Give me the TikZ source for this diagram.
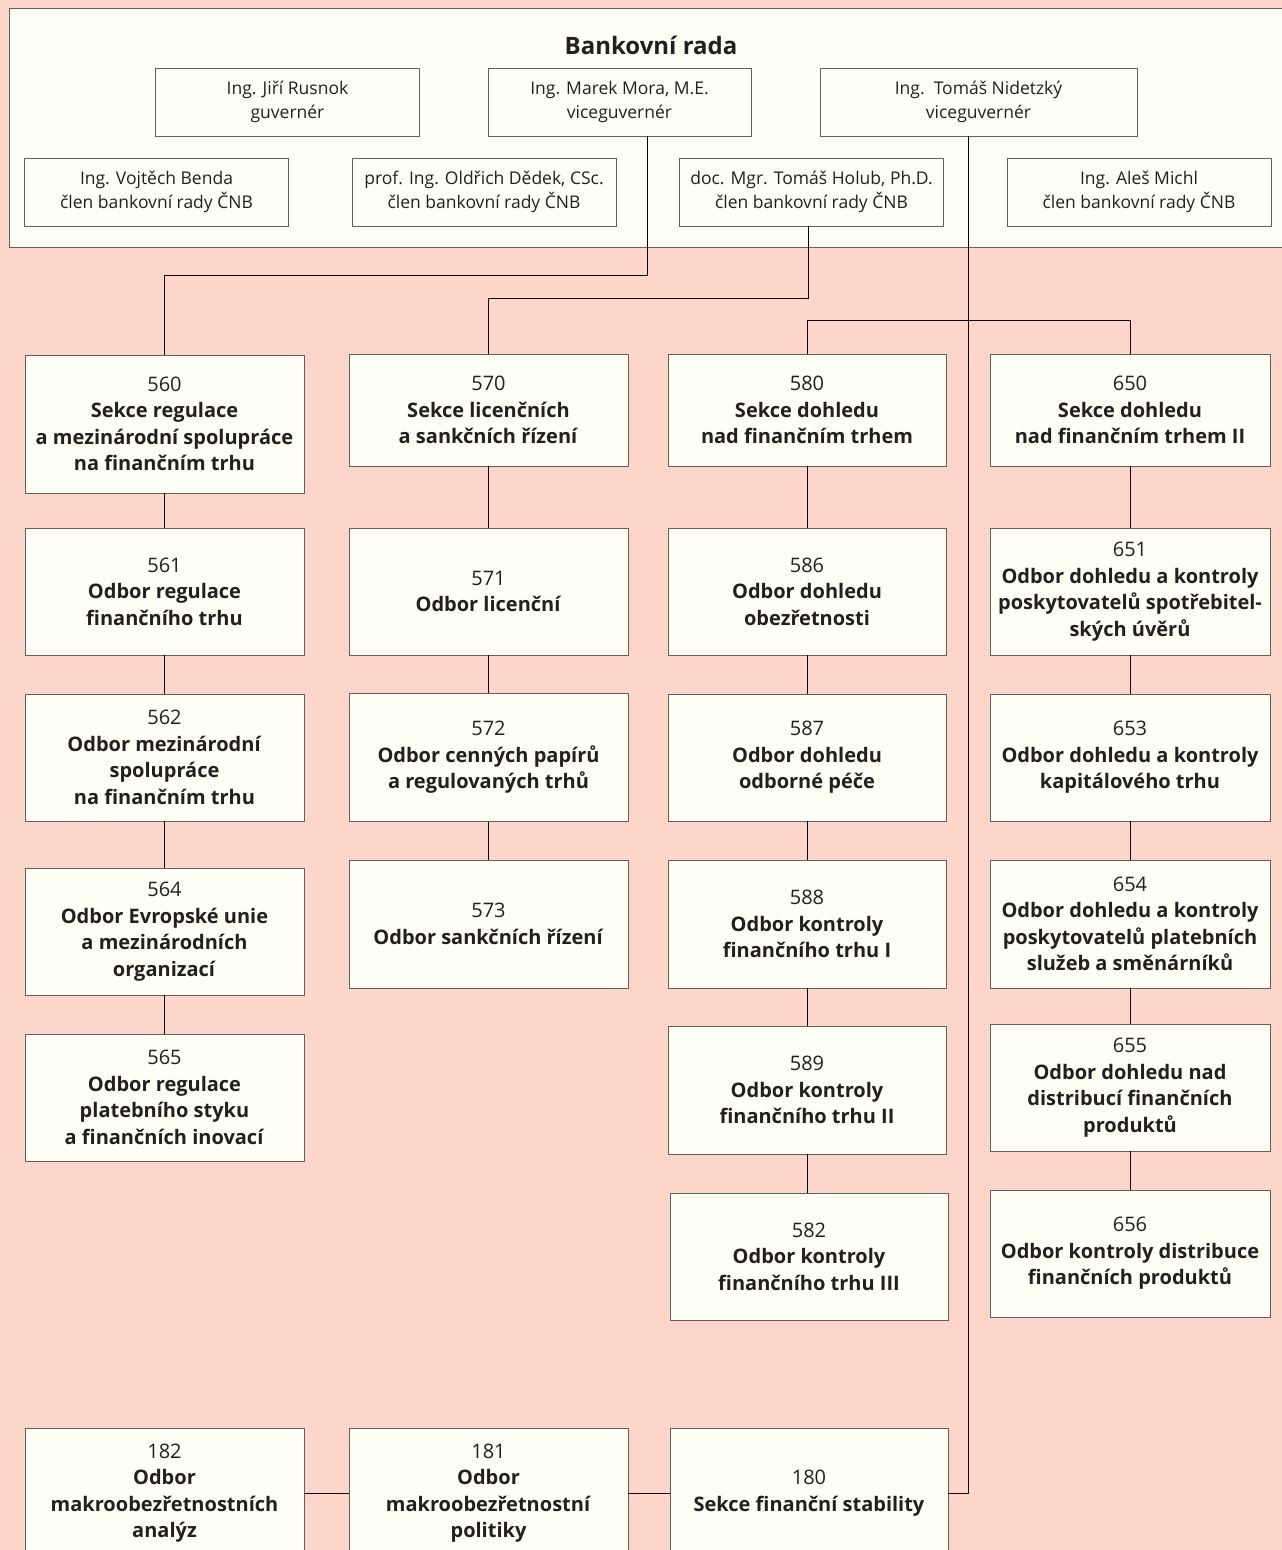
\documentclass[tikz,border=0pt]{standalone}
\usepackage{fontspec}
\setmainfont{Open Sans}
\definecolor{bgpink}{HTML}{FDD5C9}
\definecolor{ivory}{HTML}{FFFFF6}
\definecolor{boxline}{HTML}{606060}
\definecolor{txt}{HTML}{231F20}
\tikzset{
  orgbox/.style={draw=boxline, fill=ivory, line width=0.9pt, inner sep=0pt, align=center,
    text=txt, minimum width=279pt, font=\fontsize{20}{26.5}\selectfont},
  namebox/.style={draw=boxline, fill=ivory, line width=0.9pt, inner sep=0pt, align=center,
    text=txt, minimum height=68pt, font=\fontsize{17.5}{24}\selectfont},
  conn/.style={draw=black, line width=1pt},
}
\newcommand\bt[1]{\textbf{#1}}
\begin{document}
\begin{tikzpicture}[x=1pt,y=-1pt]
\useasboundingbox (0,0) rectangle (1282,1550);
\clip (0,0) rectangle (1282,1550);
\fill[bgpink] (0,0) rectangle (1282,1550);
% panel
\fill[ivory] (9,8) rectangle (1290,247);
\draw[boxline, line width=1pt] (1290,8) -- (9,8) -- (9,247) -- (1290,247);
\node[text=txt, font=\fontsize{24}{28}\selectfont\bfseries] (title) at (651,45) {Bankovní rada};
% board members
\node[namebox, minimum width=264pt] (rus) at (287.5,102) {Ing. Jiří Rusnok\\guvernér};
\node[namebox, minimum width=263pt] (mora) at (619.5,102) {Ing. Marek Mora, M.E.\\viceguvernér};
\node[namebox, minimum width=317pt] (nid) at (978.5,102) {Ing.\ \ Tomáš Nidetzký\\viceguvernér};
\node[namebox, minimum width=264pt] (benda) at (156.5,192) {Ing. Vojtěch Benda\\člen bankovní rady ČNB};
\node[namebox, minimum width=264pt] (dedek) at (484,192) {prof. Ing. Oldřich Dědek, CSc.\\člen bankovní rady ČNB};
\node[namebox, minimum width=264pt] (holub) at (811.5,192) {doc. Mgr. Tomáš Holub, Ph.D.\\člen bankovní rady ČNB};
\node[namebox, minimum width=264pt] (michl) at (1139,192) {Ing. Aleš Michl\\člen bankovní rady ČNB};
% column 1
\node[orgbox, minimum height=138pt] (n560) at (164.5,424) {560\\\bt{Sekce regulace}\\\bt{a mezinárodní spolupráce}\\\bt{na finančním trhu}};
\node[orgbox, minimum height=127pt] (n561) at (164.5,591.5) {561\\\bt{Odbor regulace}\\\bt{finančního trhu}};
\node[orgbox, minimum height=127pt] (n562) at (164.5,757.5) {562\\\bt{Odbor mezinárodní}\\\bt{spolupráce}\\\bt{na finančním trhu}};
\node[orgbox, minimum height=127pt] (n564) at (164.5,931.5) {564\\\bt{Odbor Evropské unie}\\\bt{a mezinárodních}\\\bt{organizací}};
\node[orgbox, minimum height=127pt] (n565) at (164.5,1097.5) {565\\\bt{Odbor regulace}\\\bt{platebního styku}\\\bt{a finančních inovací}};
% column 2
\node[orgbox, minimum height=112pt] (n570) at (488.5,410) {570\\\bt{Sekce licenčních}\\\bt{a sankčních řízení}};
\node[orgbox, minimum height=127pt] (n571) at (488.5,591.5) {571\\\bt{Odbor licenční}};
\node[orgbox, minimum height=128pt] (n572) at (488.5,757.5) {572\\\bt{Odbor cenných papírů}\\\bt{a regulovaných trhů}};
\node[orgbox, minimum height=128pt] (n573) at (488.5,924) {573\\\bt{Odbor sankčních řízení}};
% column 3
\node[orgbox, minimum width=278pt, minimum height=112pt] (n580) at (807,410) {580\\\bt{Sekce dohledu}\\\bt{nad finančním trhem}};
\node[orgbox, minimum width=278pt, minimum height=127pt] (n586) at (807,591.5) {586\\\bt{Odbor dohledu}\\\bt{obezřetnosti}};
\node[orgbox, minimum width=278pt, minimum height=127pt] (n587) at (807,757.5) {587\\\bt{Odbor dohledu}\\\bt{odborné péče}};
\node[orgbox, minimum width=278pt, minimum height=128pt] (n588) at (807,924) {588\\\bt{Odbor kontroly}\\\bt{finančního trhu I}};
\node[orgbox, minimum width=278pt, minimum height=128pt] (n589) at (807,1090) {589\\\bt{Odbor kontroly}\\\bt{finančního trhu II}};
\node[orgbox, minimum width=278pt, minimum height=127pt] (n582) at (809,1256.5) {582\\\bt{Odbor kontroly}\\\bt{finančního trhu III}};
% column 4
\node[orgbox, minimum width=280pt, minimum height=112pt] (n650) at (1130,410) {650\\\bt{Sekce dohledu}\\\bt{nad finančním trhem II}};
\node[orgbox, minimum width=280pt, minimum height=127pt] (n651) at (1130,591.5) {651\\\bt{Odbor dohledu a kontroly}\\\bt{poskytovatelů spotřebitel-}\\\bt{ských úvěrů}};
\node[orgbox, minimum width=280pt, minimum height=127pt] (n653) at (1130,757.5) {653\\\bt{Odbor dohledu a kontroly}\\\bt{kapitálového trhu}};
\node[orgbox, minimum width=280pt, minimum height=128pt] (n654) at (1130,924) {654\\\bt{Odbor dohledu a kontroly}\\\bt{poskytovatelů platebních}\\\bt{služeb a směnárníků}};
\node[orgbox, minimum width=280pt, minimum height=127pt] (n655) at (1130,1087.5) {655\\\bt{Odbor dohledu nad}\\\bt{distribucí finančních}\\\bt{produktů}};
\node[orgbox, minimum width=280pt, minimum height=127pt] (n656) at (1130,1253.5) {656\\\bt{Odbor kontroly distribuce}\\\bt{finančních produktů}};
% bottom row
\node[orgbox, minimum height=130pt] (n182) at (164.5,1493) {182\\\bt{Odbor}\\\bt{makroobezřetnostních}\\\bt{analýz}};
\node[orgbox, minimum height=130pt] (n181) at (488.5,1493) {181\\\bt{Odbor}\\\bt{makroobezřetnostní}\\\bt{politiky}};
\node[orgbox, minimum width=278pt, minimum height=130pt] (n180) at (809,1493) {180\\\bt{Sekce finanční stability}};
% connectors from board
\draw[conn] ([xshift=28pt]mora.south) -- ++(0,139) -| (n560.north);
\draw[conn] ([xshift=-3.5pt]holub.south) -- ++(0,72) -| (n570.north);
\draw[conn] ([xshift=-10.5pt]nid.south) |- (n180.east);
\draw[conn] (n580.north) -- ++(0,-33) -| (n650.north);
% column chains
\draw[conn] (n560) -- (n561);
\draw[conn] (n561) -- (n562);
\draw[conn] (n562) -- (n564);
\draw[conn] (n564) -- (n565);
\draw[conn] (n570) -- (n571);
\draw[conn] (n571) -- (n572);
\draw[conn] (n572) -- (n573);
\draw[conn] (n580) -- (n586);
\draw[conn] (n586) -- (n587);
\draw[conn] (n587) -- (n588);
\draw[conn] (n588) -- (n589);
\draw[conn] (n589.south) -- (n589.south |- n582.north);
\draw[conn] (n650) -- (n651);
\draw[conn] (n651) -- (n653);
\draw[conn] (n653) -- (n654);
\draw[conn] (n654) -- (n655);
\draw[conn] (n655) -- (n656);
\draw[conn] (n182.east |- n181.west) -- (n181.west);
\draw[conn] (n181.east) -- (n180.west);
\end{tikzpicture}
\end{document}
